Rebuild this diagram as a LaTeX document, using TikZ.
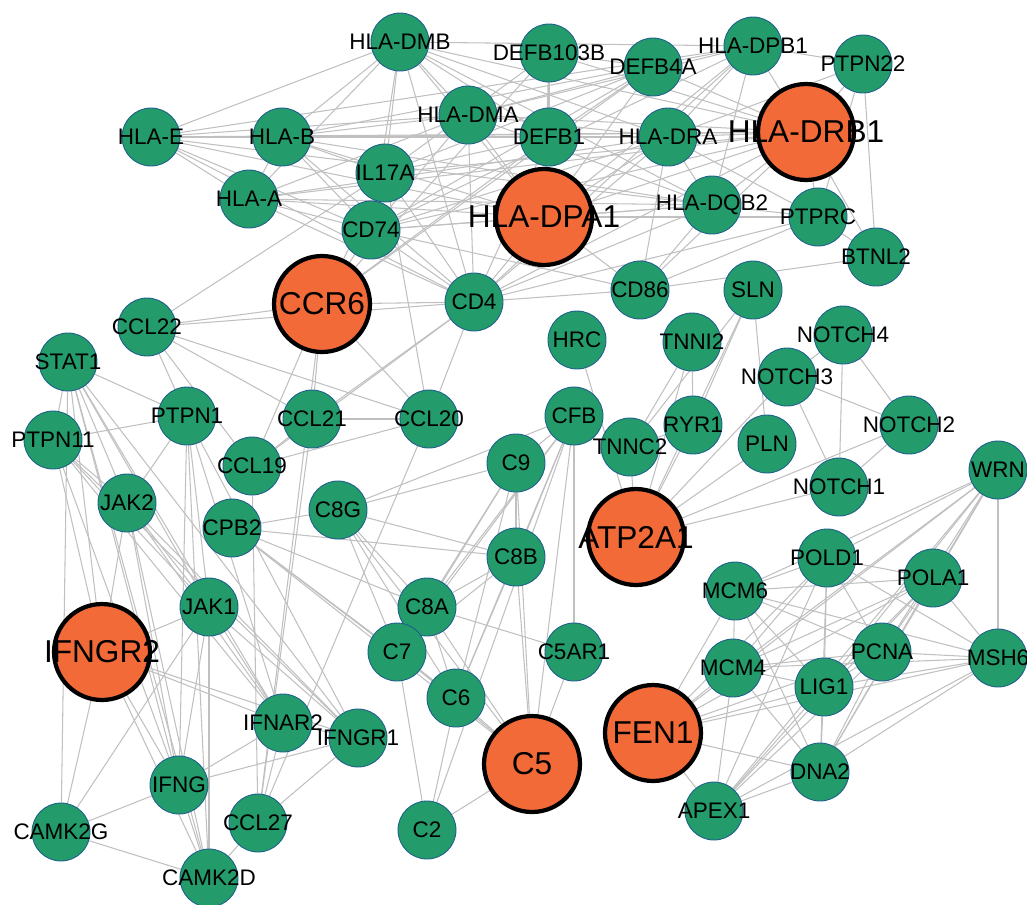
\documentclass[tikz,border=0pt]{standalone}
\usepackage{fontspec}
\setmainfont{Liberation Sans}
\usetikzlibrary{backgrounds}

\definecolor{geneGreen}{RGB}{35,155,107}
\definecolor{geneRim}{RGB}{30,95,140}
\definecolor{hubOrange}{RGB}{241,106,56}
\definecolor{linkGray}{RGB}{192,192,192}

\begin{document}
\begin{tikzpicture}[x=0.02cm, y=-0.02cm,
	gene/.style={circle, fill=geneGreen, draw=geneRim, line width=0.5pt, minimum size=1.16cm, inner sep=0pt},
	genetext/.style={inner sep=0pt, font=\fontsize{12.8}{13}\selectfont},
	hub/.style={circle, fill=hubOrange, draw=black, line width=2.4pt, minimum size=1.92cm, inner sep=0pt},
	hubtext/.style={inner sep=0pt, font=\fontsize{18}{19}\selectfont},
	link/.style={draw=linkGray, line width=0.6pt}]
	
	\useasboundingbox (0,0) rectangle (1027,904);
	
	% Hub genes in orange
	\node[hub, label={[hubtext]center:HLA-DRB1}] (hladrb1) at (806,132) {};
	\node[hub, label={[hubtext]center:HLA-DPA1}] (hladpa1) at (544,217) {};
	\node[hub, label={[hubtext]center:CCR6}] (ccr6) at (322,304) {};
	\node[hub, label={[hubtext]center:ATP2A1}] (atp2a1) at (636,537) {};
	\node[hub, label={[hubtext]center:IFNGR2}] (ifngr2) at (102,652) {};
	\node[hub, label={[hubtext]center:FEN1}] (fen1) at (653,733) {};
	\node[hub, label={[hubtext]center:C5}] (c5) at (532,764) {};
	
	% Other genes in green
	\foreach \id/\x/\y/\txt in {hladmb/400/42/HLA-DMB, defb103b/549/53/DEFB103B, defb4a/653/67/DEFB4A,
		hladpb1/753/46/HLA-DPB1, ptpn22/863/64/PTPN22, hladma/468/115/HLA-DMA, hlae/151/137/HLA-E,
		hlab/282/137/HLA-B, defb1/549/137/DEFB1, hladra/668/137/HLA-DRA, il17a/385/173/IL17A,
		hlaa/249/199/HLA-A, hladqb2/712/205/HLA-DQB2, ptprc/818/217/PTPRC, cd74/371/230/CD74,
		btnl2/876/257/BTNL2, cd4/474/302/CD4, cd86/640/290/CD86, sln/753/290/SLN,
		ccl22/147/327/CCL22, hrc/577/340/HRC, tnni2/692/342/TNNI2, notch4/843/335/NOTCH4,
		stat1/68/362/STAT1, notch3/787/377/NOTCH3, ptpn1/187/416/PTPN1, ccl21/312/419/CCL21,
		ccl20/429/419/CCL20, cfb/574/416/CFB, ryr1/693/425/RYR1, ptpn11/53/440/PTPN11,
		tnnc2/630/447/TNNC2, pln/767/444/PLN, notch2/909/425/NOTCH2, ccl19/252/466/CCL19,
		c9/516/463/C9, notch1/839/487/NOTCH1, wrn/998/470/WRN, jak2/127/503/JAK2,
		c8g/338/510/C8G, cpb2/232/528/CPB2, c8b/516/557/C8B, pold1/827/558/POLD1,
		pola1/933/578/POLA1, mcm6/735/591/MCM6, c8a/427/607/C8A, jak1/209/607/JAK1,
		c7/397/652/C7, c5ar1/574/652/C5AR1, pcna/882/652/PCNA, msh6/998/658/MSH6,
		mcm4/733/668/MCM4, lig1/824/687/LIG1, c6/456/698/C6, ifnar2/283/723/IFNAR2,
		ifngr1/358/738/IFNGR1, dna2/820/772/DNA2, ifng/179/785/IFNG, apex1/714/811/APEX1,
		ccl27/258/823/CCL27, c2/427/830/C2, camk2g/61/832/CAMK2G, camk2d/209/878/CAMK2D}
		\node[gene, label={[genetext]center:\txt}] (\id) at (\x,\y) {};
	
	\begin{pgfonlayer}{background}
		% MHC and defensin links
		\foreach \a/\b in {hlae/hlab, hlae/hlaa, hlae/hladmb, hlae/hladma, hlae/hladra, hlae/hladrb1,
			hlae/hladpa1, hlae/hladpb1, hlae/hladqb2, hlae/cd74, hlae/cd4,
			hlab/hlaa, hlab/hladmb, hlab/hladma, hlab/hladra, hlab/hladrb1, hlab/hladpa1, hlab/hladpb1,
			hlab/hladqb2, hlab/cd74, hlab/cd4, hlab/il17a,
			hlaa/hladmb, hlaa/hladma, hlaa/hladra, hlaa/hladrb1, hlaa/hladpa1, hlaa/hladqb2, hlaa/cd74, hlaa/cd4,
			hladmb/hladma, hladmb/hladra, hladmb/hladrb1, hladmb/hladpa1, hladmb/hladpb1, hladmb/hladqb2,
			hladmb/cd74, hladmb/cd4, hladmb/defb1, hladmb/il17a,
			hladma/hladra, hladma/hladrb1, hladma/hladpa1, hladma/hladpb1, hladma/hladqb2, hladma/cd74, hladma/cd4,
			hladpb1/hladrb1, hladpb1/hladra, hladpb1/hladpa1, hladpb1/hladqb2, hladpb1/cd74, hladpb1/cd4,
			hladrb1/hladra, hladrb1/hladpa1, hladrb1/hladqb2, hladrb1/cd74, hladrb1/cd4, hladrb1/cd86,
			hladrb1/ptprc, hladrb1/ptpn22, hladrb1/btnl2, hladrb1/il17a,
			hladra/hladpa1, hladra/hladqb2, hladra/cd74, hladra/cd4, hladra/cd86, hladra/ptprc, hladra/ptpn22,
			hladpa1/hladqb2, hladpa1/cd74, hladpa1/cd4, hladpa1/cd86, hladpa1/ptprc,
			hladqb2/cd74, hladqb2/cd4, hladqb2/cd86, hladqb2/ptprc,
			cd74/cd4, cd74/cd86, cd4/cd86, cd4/ptprc, cd86/ptprc, cd86/btnl2,
			ptprc/ptpn22, ptprc/btnl2, ptpn22/btnl2, ptpn22/hladpb1,
			defb103b/defb4a, defb103b/defb1, defb103b/il17a, defb103b/ccr6, defb103b/hladrb1, defb103b/hladpa1,
			defb4a/defb1, defb4a/il17a, defb4a/ccr6, defb4a/hladpa1, defb4a/hladrb1, defb4a/cd74, defb4a/hladma,
			defb1/il17a, defb1/ccr6, defb1/hladpa1, defb1/hladra, defb1/cd4,
			il17a/ccr6, il17a/ccl20, il17a/cd4, il17a/cd74, il17a/ccl22}
			\draw[link] (\a) -- (\b);
		
		% chemokine and interferon links
		\foreach \a/\b in {ccr6/cd4, ccr6/ccl20, ccr6/ccl21, ccr6/ccl19, ccr6/ccl22, ccr6/ccl27, ccr6/cd74,
			ccl22/cd4, ccl22/ccl21, ccl22/ccl20, ccl22/ccl19, ccl22/ptpn1,
			ccl21/ccl19, ccl21/ccl20, ccl21/ccl27, ccl21/cd4, ccl19/ccl20, ccl19/ccl27, ccl19/cd4,
			ccl20/cd4, ccl20/ccl27,
			stat1/ptpn11, stat1/ptpn1, stat1/jak2, stat1/jak1, stat1/ifngr2, stat1/ifngr1, stat1/ifnar2,
			stat1/ifng, stat1/camk2d, stat1/camk2g,
			ptpn11/ptpn1, ptpn11/jak2, ptpn11/jak1, ptpn11/ifngr2, ptpn11/ifngr1, ptpn11/ifnar2, ptpn11/ifng,
			ptpn1/jak2, ptpn1/jak1, ptpn1/ifngr1, ptpn1/ifnar2, ptpn1/ifng, ptpn1/camk2d,
			jak2/jak1, jak2/ifngr2, jak2/ifngr1, jak2/ifnar2, jak2/ifng, jak2/camk2d,
			jak1/ifngr2, jak1/ifngr1, jak1/ifnar2, jak1/ifng, jak1/camk2d, jak1/camk2g,
			ifngr2/ifngr1, ifngr2/ifnar2, ifngr2/ifng, ifngr2/camk2g, ifngr2/camk2d,
			ifngr1/ifnar2, ifngr1/ifng, ifngr1/ccl27, ifnar2/ifng, ifnar2/ccl27,
			ifng/camk2g, ifng/camk2d, camk2g/camk2d, camk2d/ccl27}
			\draw[link] (\a) -- (\b);
		
		% complement links
		\foreach \a/\b in {cfb/c9, cfb/c8b, cfb/c8a, cfb/c8g, cfb/c7, cfb/c6, cfb/c5, cfb/c2, cfb/c5ar1,
			c9/c8b, c9/c8a, c9/c8g, c9/c7, c9/c6, c9/c5,
			c8b/c8a, c8b/c8g, c8b/c7, c8b/c6, c8b/c5, c8b/cpb2,
			c8g/c8a, c8g/c7, c8g/c6, c8g/c5, c8g/cpb2,
			c8a/c7, c8a/c6, c8a/c5, c8a/c5ar1, c8a/cpb2,
			c7/c6, c7/c5, c7/c2, c7/cpb2, c6/c5, c6/c2, c6/cpb2,
			c5/c2, c5/c5ar1, c5/cpb2}
			\draw[link] (\a) -- (\b);
		
		% muscle and notch links
		\foreach \a/\b in {atp2a1/sln, atp2a1/pln, atp2a1/tnni2, atp2a1/tnnc2, atp2a1/ryr1, atp2a1/hrc,
			atp2a1/notch1, atp2a1/notch2, atp2a1/notch3, sln/pln, sln/ryr1, sln/tnnc2,
			tnni2/tnnc2, tnni2/ryr1, tnnc2/ryr1,
			notch4/notch3, notch4/notch1, notch4/notch2, notch3/notch2, notch3/notch1, notch2/notch1}
			\draw[link] (\a) -- (\b);
		
		% DNA repair links
		\foreach \a/\b in {wrn/pold1, wrn/pola1, wrn/mcm6, wrn/mcm4, wrn/pcna, wrn/msh6, wrn/lig1, wrn/fen1, wrn/dna2, wrn/apex1,
			pold1/pola1, pold1/mcm6, pold1/mcm4, pold1/pcna, pold1/msh6, pold1/lig1, pold1/fen1, pold1/dna2, pold1/apex1,
			pola1/mcm6, pola1/mcm4, pola1/pcna, pola1/msh6, pola1/lig1, pola1/fen1, pola1/dna2, pola1/apex1,
			mcm6/mcm4, mcm6/pcna, mcm6/msh6, mcm6/lig1, mcm6/fen1, mcm6/dna2,
			mcm4/pcna, mcm4/msh6, mcm4/lig1, mcm4/fen1, mcm4/dna2, mcm4/apex1,
			pcna/msh6, pcna/lig1, pcna/fen1, pcna/dna2, pcna/apex1,
			msh6/lig1, msh6/fen1, msh6/dna2, msh6/apex1,
			lig1/fen1, lig1/dna2, lig1/apex1, fen1/dna2, fen1/apex1, dna2/apex1}
			\draw[link] (\a) -- (\b);
	\end{pgfonlayer}
	
\end{tikzpicture}
\end{document}
